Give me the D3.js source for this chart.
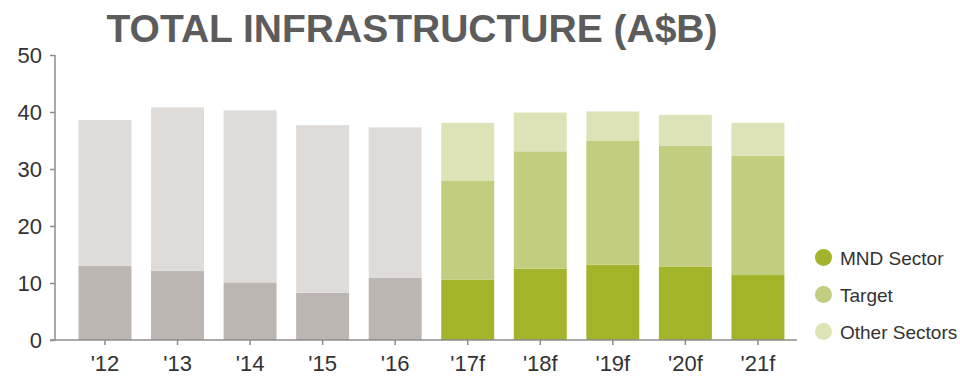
<!DOCTYPE html>
<html>
<head>
<meta charset="utf-8">
<script src="https://cdn.jsdelivr.net/npm/d3@7"></script>
<style>
  html, body { margin: 0; padding: 0; background: #fff; }
  svg { display: block; }
</style>
</head>
<body>
<svg id="chart" width="960" height="376"></svg>
<script>
// Years; a trailing "f" marks a forecast year
const categories = ["'12", "'13", "'14", "'15", "'16", "'17f", "'18f", "'19f", "'20f", "'21f"];
// Lower segment (MND sector), A$B
const mndSector = [13.0, 12.1, 10.1, 8.3, 10.9, 10.6, 12.5, 13.2, 12.9, 11.4];
// Target segment (forecast years only), A$B
const targetSector = [0, 0, 0, 0, 0, 17.3, 20.6, 21.8, 21.2, 20.9];
// Remaining sectors on top, A$B
const otherSectors = [25.6, 28.7, 30.2, 29.4, 26.4, 10.2, 6.8, 5.1, 5.4, 5.8];
const yTicks = [0, 10, 20, 30, 40, 50];
const legendLabels = ["MND Sector", "Target", "Other Sectors"];

const colorsForecast = ["#a3b42b", "#c3cd80", "#dde3b7"];
const colorsHistory = ["#bdb5b2", "#bdb5b2", "#dfdbd8"];

const svg = d3.select("#chart");
const plotTop = 55, plotBottom = 340, axisLeft = 55, axisRight = 797;

const x = d3.scaleBand()
  .domain(categories)
  .range([68.7, 794.2])
  .paddingInner(0.27)
  .paddingOuter(0.135);

const y = d3.scaleLinear().domain([0, 50]).range([plotBottom, plotTop]);

const rows = categories.map((c, i) => ({
  cat: c,
  forecast: c.endsWith("f"),
  mnd: mndSector[i],
  target: targetSector[i],
  other: otherSectors[i]
}));

const stack = d3.stack().keys(["mnd", "target", "other"]);
const series = stack(rows);

// Bars
svg.append("g")
  .selectAll("g")
  .data(series)
  .join("g")
  .each(function (s, si) {
    d3.select(this).selectAll("rect")
      .data(s.filter(d => d[1] - d[0] > 0))
      .join("rect")
      .attr("x", d => x(d.data.cat))
      .attr("width", x.bandwidth())
      .attr("y", d => y(d[1]))
      .attr("height", d => y(d[0]) - y(d[1]))
      .attr("fill", d => (d.data.forecast ? colorsForecast : colorsHistory)[si]);
  });

const axisColor = "#8c8c8c";
const labelFont = "'Liberation Sans', Arial, sans-serif";

// Y axis
const yAxis = svg.append("g")
  .attr("transform", `translate(${axisLeft},0)`)
  .call(d3.axisLeft(y).tickValues(yTicks).tickSize(5).tickPadding(8));
yAxis.select(".domain").attr("stroke", axisColor).attr("stroke-width", 1.5)
  .attr("d", `M0,${plotTop}V${plotBottom}`);
yAxis.selectAll(".tick line").attr("stroke", axisColor).attr("stroke-width", 1.5);
yAxis.selectAll(".tick text")
  .attr("fill", "#333")
  .attr("font-family", labelFont)
  .attr("font-size", 22);

// X axis
const xAxis = svg.append("g")
  .attr("transform", `translate(0,${plotBottom})`)
  .call(d3.axisBottom(x).tickSize(5).tickPadding(10));
xAxis.select(".domain").attr("stroke", axisColor).attr("stroke-width", 1.5)
  .attr("d", `M${axisLeft - 5},0H${axisRight}`);
xAxis.selectAll(".tick line").attr("stroke", axisColor).attr("stroke-width", 1.5);
xAxis.selectAll(".tick text")
  .attr("fill", "#333")
  .attr("font-family", labelFont)
  .attr("font-size", 22);

// Title
svg.append("text")
  .attr("x", 412)
  .attr("y", 42)
  .attr("text-anchor", "middle")
  .attr("font-family", "'Liberation Sans', Arial, sans-serif")
  .attr("font-weight", "bold")
  .attr("font-size", 39)
  .attr("fill", "#5c5c5c")
  .text("TOTAL INFRASTRUCTURE (A$B)");

// Legend
const legend = svg.append("g")
  .selectAll("g")
  .data(legendLabels)
  .join("g")
  .attr("transform", (d, i) => `translate(823.5,${257.5 + i * 37})`);
legend.append("circle")
  .attr("r", 8.5)
  .attr("fill", (d, i) => colorsForecast[i]);
legend.append("text")
  .attr("x", 16.5)
  .attr("y", 7)
  .attr("font-family", labelFont)
  .attr("font-size", 19)
  .attr("fill", "#333")
  .text(d => d);
</script>
</body>
</html>
